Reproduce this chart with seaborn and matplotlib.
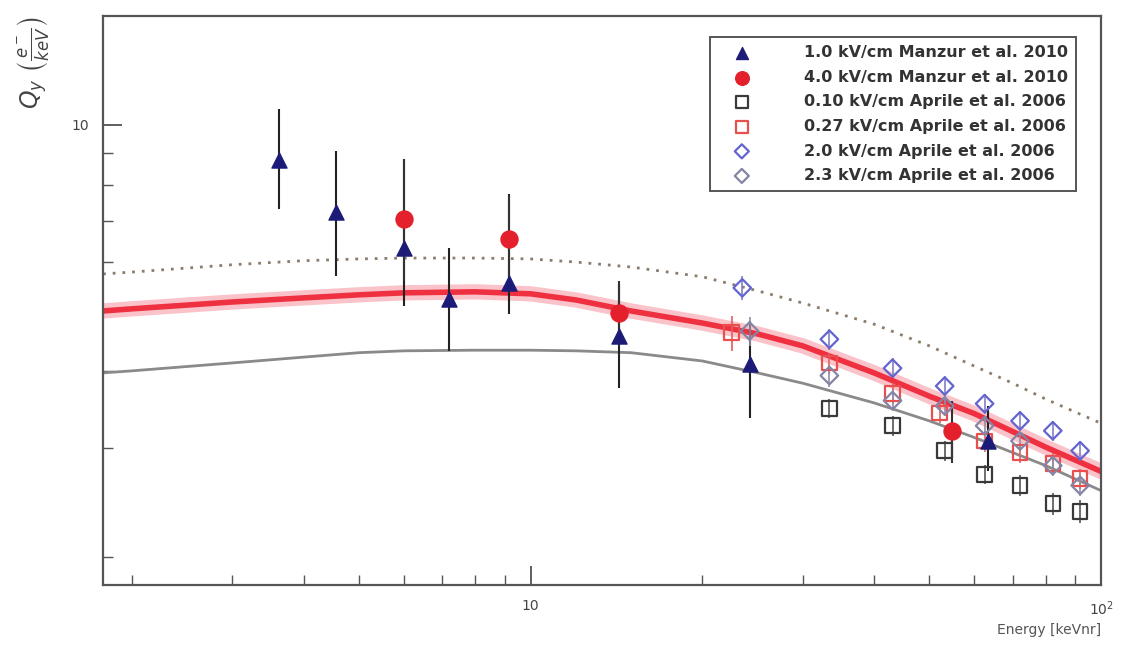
import numpy as np
import pandas as pd
import matplotlib
matplotlib.use("Agg")
import matplotlib.pyplot as plt
import seaborn as sns

# Manzur et al. 2010, 1.0 kV/cm
m1_energy = [3.62, 4.56, 6.00, 7.18, 9.15, 14.3, 24.2, 63.3]
m1_qy = [8.78, 7.23, 6.32, 5.23, 5.55, 4.56, 4.11, 3.08]
m1_lo = [7.31, 5.70, 5.09, 4.31, 4.95, 3.75, 3.36, 2.75]
m1_hi = [10.61, 9.08, 8.81, 6.32, 7.73, 5.53, 4.81, 3.51]

# Manzur et al. 2010, 4.0 kV/cm
m4_energy = [6.00, 9.15, 14.3, 54.9]
m4_qy = [7.05, 6.54, 4.96, 3.20]
m4_lo = [5.59, 5.49, 4.39, 2.84]
m4_hi = [8.81, 7.67, 5.59, 3.58]

# Aprile et al. 2006
a010_energy = [33.4, 43.1, 53.2, 62.5, 72.1, 82.3, 91.9]
a010_qy = [3.48, 3.26, 2.97, 2.72, 2.61, 2.44, 2.37]
a010_err = [0.12, 0.12, 0.11, 0.10, 0.10, 0.10, 0.10]

a027_energy = [22.5, 33.4, 43.1, 52.1, 62.5, 72.1, 82.3, 91.9]
a027_qy = [4.61, 4.12, 3.68, 3.42, 3.08, 2.95, 2.83, 2.68]
a027_err = [0.30, 0.16, 0.14, 0.13, 0.12, 0.11, 0.11, 0.10]

a20_energy = [23.5, 33.4, 43.1, 53.2, 62.5, 72.1, 82.3, 91.9]
a20_qy = [5.45, 4.50, 4.04, 3.78, 3.54, 3.32, 3.20, 2.97]
a20_err = [0.25, 0.18, 0.15, 0.14, 0.13, 0.12, 0.12, 0.11]

a23_energy = [24.2, 33.4, 43.1, 53.2, 62.5, 72.1, 82.3, 91.9]
a23_qy = [4.64, 3.93, 3.58, 3.51, 3.26, 3.08, 2.81, 2.61]
a23_err = [0.25, 0.16, 0.14, 0.13, 0.12, 0.11, 0.11, 0.10]

# model curves
curve_energy = [1.78, 2, 3, 4, 5, 6, 8, 10, 12, 15, 20, 25, 30, 40, 50, 60, 70, 80, 100]
red_curve = [5.00, 5.04, 5.17, 5.25, 5.31, 5.35, 5.37, 5.33, 5.21, 5.00, 4.78, 4.59, 4.39,
             3.97, 3.64, 3.41, 3.19, 3.01, 2.75]
dotted_curve = [5.74, 5.78, 5.94, 6.03, 6.07, 6.09, 6.09, 6.07, 6.00, 5.89, 5.68, 5.39, 5.15,
                4.76, 4.39, 4.07, 3.82, 3.60, 3.29]
gray_curve = [3.97, 4.00, 4.12, 4.21, 4.28, 4.31, 4.32, 4.32, 4.31, 4.28, 4.15, 3.97, 3.82,
              3.55, 3.32, 3.12, 2.95, 2.81, 2.56]

curves = pd.DataFrame({"energy": curve_energy, "red": red_curve,
                       "dotted": dotted_curve, "gray": gray_curve})

sns.set_style("ticks")
plt.rcParams["font.family"] = ["DejaVu Sans"]

fig = plt.figure(figsize=(11.21, 6.56), dpi=100)
ax = fig.add_axes([0.0919, 0.108, 0.8903, 0.8674])
ax.set_xscale("log")
ax.set_yscale("log")

sns.lineplot(data=curves, x="energy", y="dotted", ax=ax, color="#8c7c6c", lw=2,
             linestyle=(0, (1, 2.5)))
sns.lineplot(data=curves, x="energy", y="gray", ax=ax, color="#8a8a8a", lw=2)
sns.lineplot(data=curves, x="energy", y="red", ax=ax, color="#f47a88", lw=11, alpha=0.45)
sns.lineplot(data=curves, x="energy", y="red", ax=ax, color="#ee3040", lw=4)

# error bars
def vbars(x, y, lo, hi, color="k"):
    ax.errorbar(x, y, yerr=[np.array(y) - np.array(lo), np.array(hi) - np.array(y)],
                fmt="none", ecolor=color, elinewidth=1.5, capsize=0, zorder=3)

vbars(m1_energy, m1_qy, m1_lo, m1_hi, "#222222")
vbars(m4_energy, m4_qy, m4_lo, m4_hi, "#333333")
ax.errorbar(a010_energy, a010_qy, yerr=a010_err, fmt="none", ecolor="#555555", elinewidth=1.2, zorder=3)
ax.errorbar(a027_energy, a027_qy, yerr=a027_err, fmt="none", ecolor="#e06060", elinewidth=1.2, zorder=3)
ax.errorbar(a20_energy, a20_qy, yerr=a20_err, fmt="none", ecolor="#8080c8", elinewidth=1.2, zorder=3)
ax.errorbar(a23_energy, a23_qy, yerr=a23_err, fmt="none", ecolor="#9090a8", elinewidth=1.2, zorder=3)

sns.scatterplot(x=m1_energy, y=m1_qy, ax=ax, marker="^", s=120, color="#1c1c78",
                edgecolor="#1c1c78", label="1.0 kV/cm Manzur et al. 2010", zorder=5)
sns.scatterplot(x=m4_energy, y=m4_qy, ax=ax, marker="o", s=150, color="#e4202c",
                edgecolor="#e4202c", label="4.0 kV/cm Manzur et al. 2010", zorder=4)
sns.scatterplot(x=a010_energy, y=a010_qy, ax=ax, marker="s", s=110, color="#3a3a3a",
                facecolor="none", edgecolor="#3a3a3a", linewidth=1.6,
                label="0.10 kV/cm Aprile et al. 2006", zorder=4)
sns.scatterplot(x=a027_energy, y=a027_qy, ax=ax, marker="s", s=110, color="#e85050",
                facecolor="none", edgecolor="#e85050", linewidth=1.6,
                label="0.27 kV/cm Aprile et al. 2006", zorder=4)
sns.scatterplot(x=a20_energy, y=a20_qy, ax=ax, marker="D", s=80, color="#6464d0",
                facecolor="none", edgecolor="#6464d0", linewidth=1.6,
                label="2.0 kV/cm Aprile et al. 2006", zorder=4)
sns.scatterplot(x=a23_energy, y=a23_qy, ax=ax, marker="D", s=80, color="#8484a4",
                facecolor="none", edgecolor="#8484a4", linewidth=1.6,
                label="2.3 kV/cm Aprile et al. 2006", zorder=4)

ax.set_xlim(1.78, 100)
ax.set_ylim(1.8, 15)

ax.xaxis.set_major_locator(matplotlib.ticker.FixedLocator([10, 100]))
ax.xaxis.set_major_formatter(matplotlib.ticker.FixedFormatter(["10", "$10^2$"]))
ax.xaxis.set_minor_locator(matplotlib.ticker.LogLocator(base=10, subs=np.arange(2, 10)))
ax.xaxis.set_minor_formatter(matplotlib.ticker.NullFormatter())
ax.yaxis.set_major_locator(matplotlib.ticker.FixedLocator([10]))
ax.yaxis.set_major_formatter(matplotlib.ticker.FixedFormatter(["10"]))
ax.yaxis.set_minor_locator(matplotlib.ticker.LogLocator(base=10, subs=np.arange(2, 10)))
ax.yaxis.set_minor_formatter(matplotlib.ticker.NullFormatter())

ax.tick_params(which="both", bottom=True, left=True, top=False, right=False)
ax.tick_params(which="major", direction="in", length=14, width=1.2, labelsize=10,
               colors="#444444", pad=10)
ax.tick_params(which="minor", direction="in", length=7, width=1.0, colors="#555555")
for side in ax.spines.values():
    side.set_visible(True)
    side.set_color("#555555")
    side.set_linewidth(1.6)

ax.set_xlabel("Energy [keVnr]", loc="right", fontsize=10, color="#555555")
ax.set_ylabel(r"$Q_y\ \left(\frac{e^-}{keV}\right)$", loc="top", fontsize=17, color="#444444",
              labelpad=14)

leg = ax.legend(loc="upper right", bbox_to_anchor=(0.983, 0.977), fontsize=11.5,
                frameon=True, fancybox=False, edgecolor="#555555", framealpha=1,
                borderpad=0.5, labelspacing=0.6, handletextpad=2.4, handlelength=3.0,
                markerscale=0.8)
leg.get_frame().set_linewidth(1.4)
for t in leg.get_texts():
    t.set_fontweight("bold")
    t.set_color("#333333")

fig.savefig("out.png", dpi=100)
